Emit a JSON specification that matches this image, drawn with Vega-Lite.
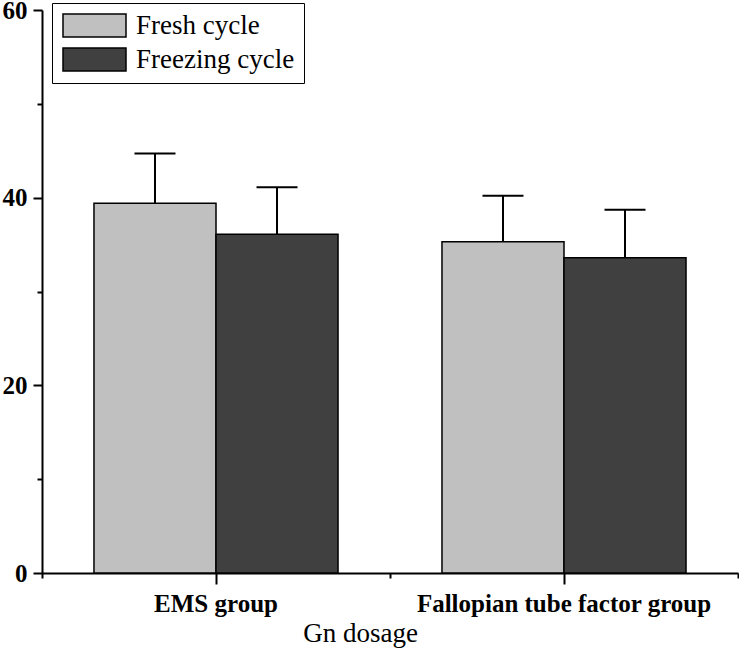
{
  "$schema": "https://vega.github.io/schema/vega-lite/v6.json",
  "autosize": {"type": "none"},
  "padding": {"left": 42, "top": 10, "right": 1, "bottom": 76},
  "width": 696,
  "height": 563,
  "background": "white",
  "config": {
    "view": {"stroke": null},
    "font": "Liberation Serif, Times New Roman, serif",
    "axis": {
      "labelColor": "black",
      "titleColor": "black",
      "domainColor": "black",
      "tickColor": "black",
      "domainWidth": 2,
      "tickWidth": 2,
      "grid": false
    },
    "legend": {
      "labelFont": "Liberation Serif, Times New Roman, serif"
    }
  },
  "data": {
    "values": [
      {"Group": "EMS group", "Cycle": "Fresh cycle", "Mean": 39.4, "Upper": 44.7},
      {"Group": "EMS group", "Cycle": "Freezing cycle", "Mean": 36.1, "Upper": 41.1},
      {"Group": "Fallopian tube factor group", "Cycle": "Fresh cycle", "Mean": 35.3, "Upper": 40.2},
      {"Group": "Fallopian tube factor group", "Cycle": "Freezing cycle", "Mean": 33.6, "Upper": 38.7}
    ]
  },
  "layer": [
    {
      "mark": {"type": "bar", "stroke": "black", "strokeWidth": 1.5, "opacity": 1},
      "encoding": {
        "x": {
          "field": "Group", "type": "nominal", "sort": null,
          "scale": {"paddingInner": 0, "paddingOuter": 0},
          "axis": {
            "orient": "bottom", "title": "Gn dosage", "labelAngle": 0,
            "labelFont": "Liberation Serif, Times New Roman, serif",
            "titleFont": "Liberation Serif, Times New Roman, serif",
            "labelFontSize": 25, "labelFontWeight": "bold", "labelPadding": 7,
            "tickSize": 11, "titleFontSize": 27, "titleFontWeight": "normal",
            "titlePadding": 4, "titleX": 318, "labelLimit": 400
          }
        },
        "xOffset": {
          "field": "Cycle", "type": "nominal",
          "scale": {"domain": ["Fresh cycle", "Freezing cycle"], "paddingInner": 0, "paddingOuter": 0.426}
        },
        "y": {
          "field": "Mean", "type": "quantitative", "stack": null,
          "scale": {"domain": [0, 60], "nice": false},
          "axis": {
            "orient": "left", "title": null, "values": [0, 20, 40, 60],
            "labelFont": "Liberation Serif, Times New Roman, serif",
            "labelFontSize": 25, "labelFontWeight": "bold", "labelPadding": 6, "tickSize": 9
          }
        },
        "color": {
          "field": "Cycle", "type": "nominal",
          "scale": {"domain": ["Fresh cycle", "Freezing cycle"], "range": ["#c0c0c0", "#404040"]},
          "legend": {
            "title": null, "orient": "none", "legendX": 10, "legendY": -7,
            "padding": 9, "strokeColor": "black", "fillColor": "white",
            "labelFontSize": 27, "labelColor": "black",
            "symbolOffset": 20, "labelOffset": 28, "rowPadding": 5,
            "symbolType": "M-2.739,-1L2.739,-1L2.739,1L-2.739,1Z",
            "symbolSize": 529, "symbolStrokeColor": "black", "symbolStrokeWidth": 1.5,
            "symbolOpacity": 1
          }
        }
      }
    },
    {
      "mark": {"type": "rule", "color": "black", "strokeWidth": 2},
      "encoding": {
        "x": {
          "field": "Group", "type": "nominal", "sort": null,
          "axis": {
            "orient": "bottom", "title": null, "labels": false, "domain": false,
            "tickBand": "extent", "tickSize": 5
          }
        },
        "xOffset": {"field": "Cycle", "type": "nominal"},
        "y": {
          "field": "Mean", "type": "quantitative",
          "axis": {
            "orient": "left", "title": null, "labels": false, "domain": false,
            "values": [10, 30, 50], "tickSize": 5
          }
        },
        "y2": {"field": "Upper"}
      }
    },
    {
      "mark": {"type": "tick", "color": "black", "thickness": 2, "size": 41, "opacity": 1},
      "encoding": {
        "x": {"field": "Group", "type": "nominal", "sort": null, "axis": null},
        "xOffset": {"field": "Cycle", "type": "nominal"},
        "y": {"field": "Upper", "type": "quantitative", "axis": null}
      }
    }
  ],
  "resolve": {
    "scale": {"x": "shared", "y": "shared", "xOffset": "shared"},
    "axis": {"x": "independent", "y": "independent"}
  }
}
